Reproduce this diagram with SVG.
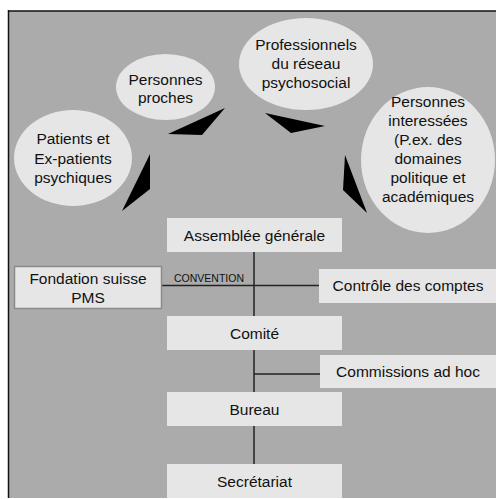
<svg xmlns="http://www.w3.org/2000/svg" width="496" height="499" viewBox="0 0 496 499">
<style>
.bg{fill:#ababab}
.ell{fill:#e6e6e6}
.box{fill:#e6e6e6}
.tri{fill:#000}
.t{font-family:"Liberation Sans",Arial,sans-serif;font-size:15.5px;fill:#111;text-anchor:middle}
.s{font-family:"Liberation Sans",Arial,sans-serif;font-size:10.5px;fill:#111}
.ln{stroke:#222;stroke-width:1.5;fill:none}
</style>
<rect x="0" y="0" width="496" height="499" fill="#fff"/>
<rect class="bg" x="8" y="11" width="488" height="487"/>
<line x1="8.5" y1="10" x2="8.5" y2="498" stroke="#111" stroke-width="1.5"/>
<line x1="8" y1="11" x2="496" y2="11" stroke="#111" stroke-width="1.5"/>

<g id="connectors">
<line class="ln" x1="254" y1="252" x2="254" y2="464"/>
<line class="ln" x1="162" y1="285.5" x2="319" y2="285.5"/>
<line class="ln" x1="254" y1="374" x2="320" y2="374"/>
<polygon class="tri" points="150,154 150,189 122,211"/>
<polygon class="tri" points="225,108 168,134 202,135"/>
<polygon class="tri" points="265,113 325,126 291,133"/>
<polygon class="tri" points="345,155 343,190 367,213"/>
</g>

<g id="patients">
<ellipse class="ell" cx="73" cy="158" rx="59" ry="48"/>
<text class="t" x="73" y="144">Patients et</text>
<text class="t" x="73" y="164">Ex-patients</text>
<text class="t" x="73" y="183">psychiques</text>
</g>
<g id="proches">
<ellipse class="ell" cx="165.5" cy="87" rx="49.5" ry="33"/>
<text class="t" x="165.5" y="85">Personnes</text>
<text class="t" x="165.5" y="103">proches</text>
</g>
<g id="professionnels">
<ellipse class="ell" cx="306" cy="64" rx="67" ry="46"/>
<text class="t" x="306" y="50">Professionnels</text>
<text class="t" x="306" y="69">du réseau</text>
<text class="t" x="306" y="88">psychosocial</text>
</g>
<g id="interessees">
<ellipse class="ell" cx="428" cy="160" rx="67" ry="73"/>
<text class="t" x="428" y="107">Personnes</text>
<text class="t" x="428" y="126">interessées</text>
<text class="t" x="428" y="145">(P.ex. des</text>
<text class="t" x="428" y="164">domaines</text>
<text class="t" x="428" y="183">politique et</text>
<text class="t" x="428" y="202">académiques</text>
</g>

<g id="assemblee">
<rect class="box" x="167" y="218" width="175" height="34"/>
<text class="t" x="254.5" y="240.5">Assemblée générale</text>
</g>
<g id="fondation">
<rect class="box" x="14.5" y="266.5" width="147" height="42" stroke="#8a8a8a" stroke-width="1.5"/>
<text class="t" x="88" y="284">Fondation suisse</text>
<text class="t" x="88" y="303">PMS</text>
</g>
<text class="s" x="174" y="281.5">CONVENTION</text>
<g id="controle">
<rect class="box" x="319" y="269" width="177" height="34"/>
<text class="t" x="408" y="291">Contrôle des comptes</text>
</g>
<g id="comite">
<rect class="box" x="167" y="316" width="175" height="34"/>
<text class="t" x="254.5" y="338.5">Comité</text>
</g>
<g id="commissions">
<rect class="box" x="320" y="355" width="176" height="33"/>
<text class="t" x="408" y="377">Commissions ad hoc</text>
</g>
<g id="bureau">
<rect class="box" x="167" y="392" width="175" height="34"/>
<text class="t" x="254.5" y="414.5">Bureau</text>
</g>
<g id="secretariat">
<rect class="box" x="167" y="464" width="175" height="34"/>
<text class="t" x="254.5" y="486.5">Secrétariat</text>
</g>
</svg>
